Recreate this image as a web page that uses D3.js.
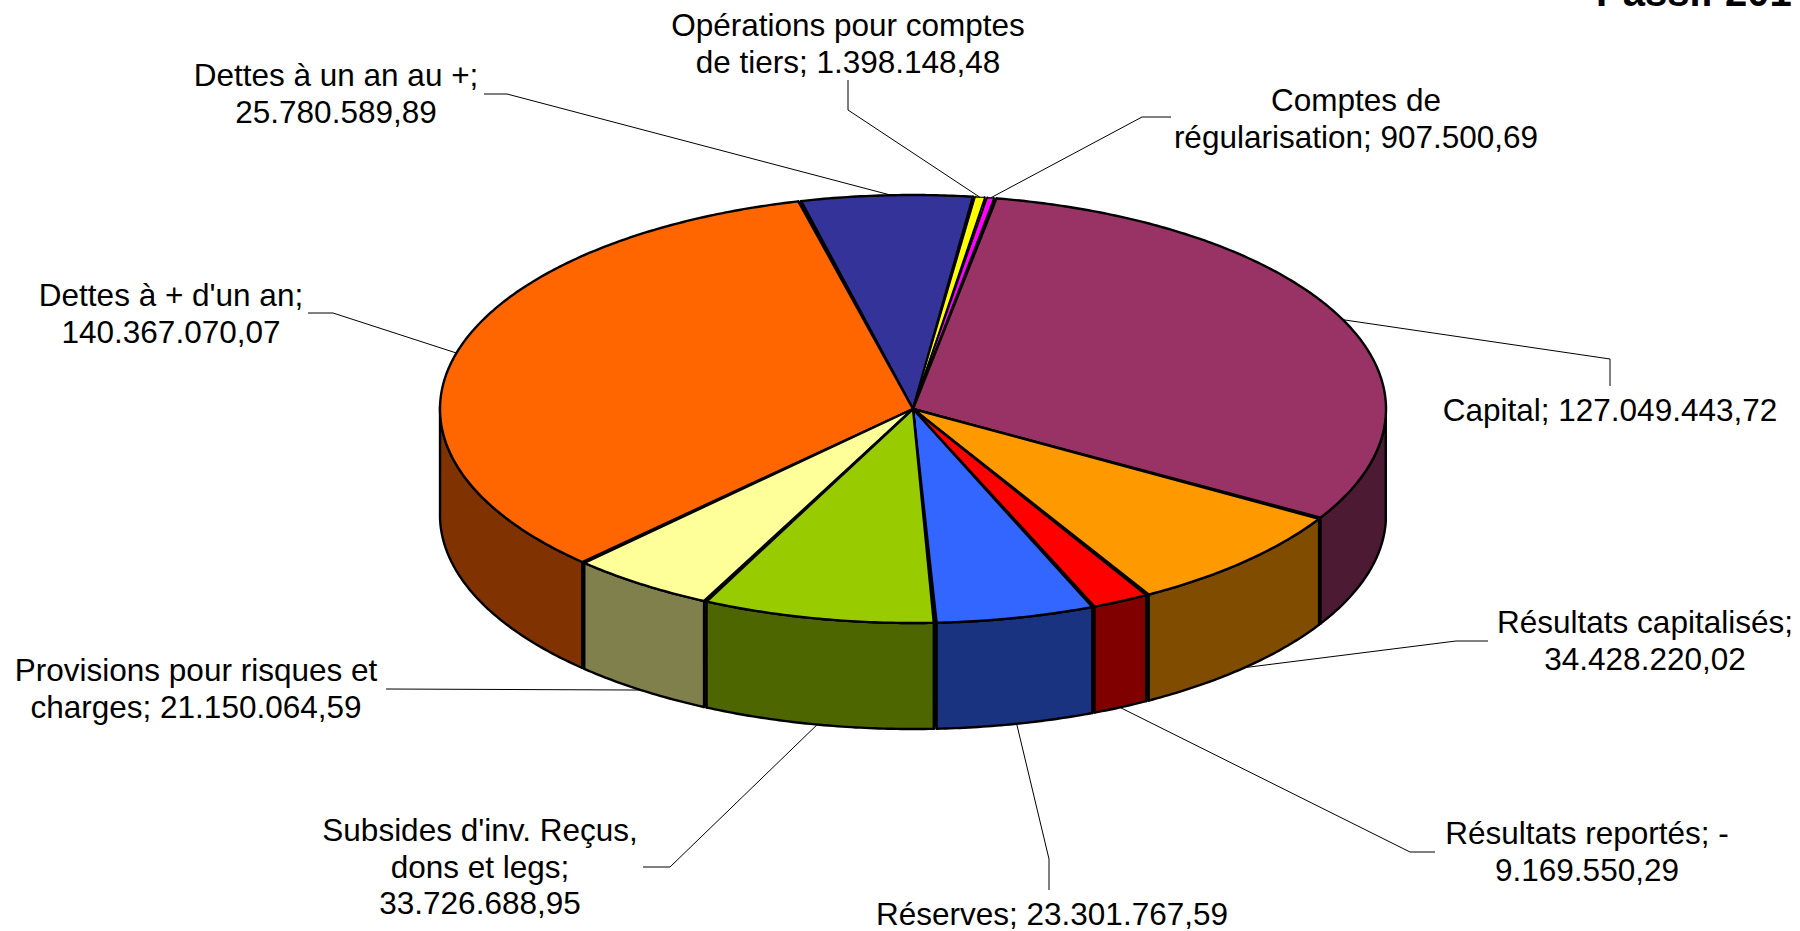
<!DOCTYPE html>
<html>
<head>
<meta charset="utf-8">
<script src="https://cdn.jsdelivr.net/npm/d3@7"></script>
<style>
  html, body { margin: 0; padding: 0; background: #fff; overflow: hidden; }
  text { font-family: "Liberation Sans", Arial, sans-serif; fill: #000; }
</style>
</head>
<body>
<div id="chart"></div>
<script>
// Chart values
const categories = ["Capital", "Résultats capitalisés", "Résultats reportés", "Réserves",
  "Subsides d'inv. Reçus, dons et legs", "Provisions pour risques et charges",
  "Dettes à + d'un an", "Dettes à un an au +", "Opérations pour comptes de tiers",
  "Comptes de régularisation"];
const values = [127049443.72, 34428220.02, -9169550.29, 23301767.59, 33726688.95,
  21150064.59, 140367070.07, 25780589.89, 1398148.48, 907500.69];
const labelLines = [
  ["Capital; 127.049.443,72"],
  ["Résultats capitalisés;", "34.428.220,02"],
  ["Résultats reportés; -", "9.169.550,29"],
  ["Réserves; 23.301.767,59"],
  ["Subsides d'inv. Reçus,", "dons et legs;", "33.726.688,95"],
  ["Provisions pour risques et", "charges; 21.150.064,59"],
  ["Dettes à + d'un an;", "140.367.070,07"],
  ["Dettes à un an au +;", "25.780.589,89"],
  ["Opérations pour comptes", "de tiers; 1.398.148,48"],
  ["Comptes de", "régularisation; 907.500,69"]
];
const topColors = ["#993366", "#ff9900", "#ff0000", "#3366ff", "#99cc00",
  "#ffff99", "#ff6600", "#333399", "#ffff00", "#ff00ff"];
const sideColors = ["#4d1a33", "#804d00", "#800000", "#1a3380", "#4d6600",
  "#80804d", "#803300", "#1a1a4d", "#808000", "#800080"];
const titleText = "Passif 201";

// Label layout: elbow points of the leader lines and text position
const labelLayout = [
  {elbow: [[1610, 359], [1610, 386]], x: 1610, y: 421},
  {elbow: [[1456, 641], [1488, 641]], x: 1645, y: 633},
  {elbow: [[1410, 852], [1435, 852]], x: 1587, y: 844},
  {elbow: [[1049, 859], [1049, 890]], x: 1052, y: 925},
  {elbow: [[670, 867], [643, 867]], x: 480, y: 841},
  {elbow: [[386, 689]], x: 196, y: 681},
  {elbow: [[333, 313], [308, 313]], x: 171, y: 306},
  {elbow: [[507, 94], [484, 94]], x: 336, y: 86},
  {elbow: [[848, 110], [848, 80]], x: 848, y: 36},
  {elbow: [[1142, 117], [1171, 117]], x: 1356, y: 111}
];

const width = 1800, height = 931;
const depth = 106;

const svg = d3.select("#chart").append("svg")
  .attr("width", width)
  .attr("height", height);

// unit circle -> flattened ellipse of the 3D pie
const xScale = d3.scaleLinear().domain([-1, 1]).range([440, 1386]);
const yScale = d3.scaleLinear().domain([-1, 1]).range([195, 623]);

// the original has some perspective, so its slice edges sit a little off the plain ellipse angles
const perspective = d3.scaleLinear()
  .domain([0, 7.5, 9.5, 120, 150, 158, 177, 225, 346, 358, 360])
  .range([1.4, 0.5, 0.5, 2.3, 2.1, 1.0, 0.7, 0, 1.7, 1.7, 1.4]);

function rim(a, r, dz) {
  const deg = (a * 180 / Math.PI % 360 + 360) % 360;
  const b = a + perspective(deg) * Math.PI / 180;
  return [xScale(r * Math.sin(b)), yScale(-r * Math.cos(b)) + dz];
}

const startAngle = 9.5 * Math.PI / 180;
const pie = d3.pie()
  .sort(null)
  .value(i => Math.abs(values[i]))
  .startAngle(startAngle)
  .endAngle(startAngle + 2 * Math.PI)
  .padAngle(0.006);

const slices = pie(d3.range(values.length));
const line = d3.line();

function arcPoints(a0, a1, dz) {
  const n = Math.max(2, Math.ceil((a1 - a0) / 0.01));
  return d3.range(n + 1).map(k => rim(a0 + (a1 - a0) * k / n, 1, dz));
}

function midAngle(s) {
  return (s.startAngle + s.endAngle) / 2;
}

// back slices first, so that the front ones paint over them
const order = slices.slice().sort((p, q) =>
  d3.ascending(-Math.cos(midAngle(p)), -Math.cos(midAngle(q))));

const pieG = svg.append("g")
  .attr("stroke", "#000")
  .attr("stroke-width", 2.4)
  .attr("stroke-linejoin", "round");

order.forEach(function(s) {
  const i = s.data;
  const a0 = s.startAngle + s.padAngle / 2;
  const a1 = s.endAngle - s.padAngle / 2;
  const g = pieG.append("g");

  // radial walls
  [a0, a1].forEach(function(a) {
    g.append("path")
      .attr("fill", sideColors[i])
      .attr("d", line([rim(a, 0, 0), rim(a, 1, 0), rim(a, 1, depth), rim(a, 0, depth)]) + "Z");
  });

  // outer wall, only the front half of the rim shows
  [[Math.PI / 2, 3 * Math.PI / 2], [5 * Math.PI / 2, 7 * Math.PI / 2]].forEach(function(w) {
    const b0 = Math.max(a0, w[0]), b1 = Math.min(a1, w[1]);
    if (b1 <= b0) return;
    const pts = arcPoints(b0, b1, 0).concat(arcPoints(b0, b1, depth).reverse());
    g.append("path")
      .attr("fill", sideColors[i])
      .attr("d", line(pts) + "Z");
  });

  // top face
  g.append("path")
    .attr("fill", topColors[i])
    .attr("stroke-width", i >= 8 ? 1.2 : 2.4)
    .attr("d", line([rim(a0, 0, 0)].concat(arcPoints(a0, a1, 0))) + "Z");
});

// Leader lines start at the middle of each slice's rim
slices.forEach(function(s) {
  const a = midAngle(s);
  const dz = Math.cos(a) < 0 ? depth : 0;
  svg.append("path")
    .attr("fill", "none")
    .attr("stroke", "#000")
    .attr("stroke-width", 1)
    .attr("d", line([rim(a, 1, dz)].concat(labelLayout[s.data].elbow)));
});

// Labels
const fontSize = 31.5;
const lineStep = 36.7;
labelLines.forEach(function(lines, i) {
  const pos = labelLayout[i];
  const t = svg.append("text")
    .attr("text-anchor", "middle")
    .attr("font-size", fontSize)
    .attr("transform", "translate(" + pos.x + "," + pos.y + ")");
  lines.forEach(function(str, k) {
    t.append("tspan")
      .attr("x", 0)
      .attr("y", k * lineStep)
      .text(str);
  });
});

// Title, cut by the top right corner in the original
svg.append("text")
  .attr("x", 1596)
  .attr("y", 6)
  .attr("font-size", 40)
  .attr("font-weight", "bold")
  .text(titleText);
</script>
</body>
</html>
